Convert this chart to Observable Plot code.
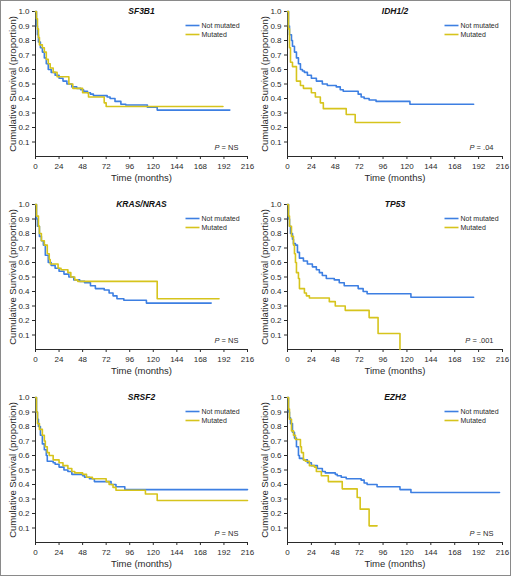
<!DOCTYPE html>
<html><head><meta charset="utf-8">
<script src="https://cdn.jsdelivr.net/npm/d3@7"></script>
<script src="https://cdn.jsdelivr.net/npm/@observablehq/plot@0.6"></script>
<style>
body{margin:0;background:#fff;}
#wrap{position:relative;width:512px;height:576px;overflow:hidden;background:#fff;}
#border{position:absolute;left:0;top:0;width:511px;height:576px;box-sizing:border-box;border:1px solid #8a8a8a;pointer-events:none;}
.panel{position:absolute;width:256px;}
.panel svg{display:block;max-width:none !important;}
</style></head>
<body><div id="wrap"><div id="border"></div></div>
<script>
// ---------- data ----------
const genes = ["SF3B1", "IDH1/2", "KRAS/NRAS", "TP53", "SRSF2", "EZH2"];
const pValues = ["NS", ".04", "NS", ".001", "NS", "NS"];
const groups = ["Not mutated", "Mutated"];
const xTicks = [0, 24, 48, 72, 96, 120, 144, 168, 192, 216];
const yTicks = [0.1, 0.2, 0.3, 0.4, 0.5, 0.6, 0.7, 0.8, 0.9, 1.0];
const xLabel = "Time (months)";
const yLabel = "Cumulative Survival (proportion)";

// SF3B1
const sf3b1NotTime = [0,1,2,3,5,7,9,11,13,16,20,24,28,32,37,42,46,49,53,56,59,73,76,81,87,92,114,124,198];
const sf3b1NotSurv = [1,0.9,0.84,0.79,0.75,0.72,0.68,0.64,0.6,0.58,0.56,0.54,0.52,0.5,0.48,0.47,0.46,0.45,0.44,0.43,0.42,0.41,0.40,0.38,0.36,0.355,0.34,0.32,0.32];
const sf3b1MutTime = [0,1,2,3,4,7,9,11,13,15,18,22,34,38,48,54,70,72,191];
const sf3b1MutSurv = [1,0.95,0.88,0.82,0.77,0.75,0.72,0.67,0.64,0.61,0.58,0.55,0.5,0.47,0.44,0.41,0.37,0.345,0.345];
// IDH1/2
const idhNotTime = [0,1,2,4,5,7,9,11,13,15,17,20,24,29,35,40,49,53,56,71,74,77,82,89,123,187];
const idhNotSurv = [1,0.9,0.84,0.8,0.76,0.72,0.68,0.64,0.6,0.59,0.58,0.56,0.54,0.52,0.5,0.49,0.48,0.46,0.45,0.43,0.41,0.40,0.39,0.38,0.36,0.36];
const idhMutTime = [0,1,2,3,5,9,13,16,24,28,33,36,59,68,113];
const idhMutSurv = [1,0.88,0.75,0.65,0.62,0.52,0.49,0.47,0.44,0.41,0.37,0.33,0.29,0.235,0.235];
// KRAS/NRAS
const rasNotTime = [0,1,2,4,6,8,10,13,16,20,24,29,34,39,45,50,56,61,70,75,79,83,90,113,179];
const rasNotSurv = [1,0.9,0.85,0.78,0.75,0.72,0.65,0.6,0.58,0.56,0.54,0.52,0.5,0.48,0.47,0.46,0.44,0.42,0.41,0.39,0.37,0.35,0.34,0.32,0.32];
const rasMutTime = [0,1,3,4,6,9,12,14,15,23,26,33,36,40,43,124,187];
const rasMutSurv = [1,0.92,0.85,0.8,0.75,0.72,0.66,0.62,0.59,0.56,0.55,0.53,0.5,0.48,0.47,0.35,0.35];
// TP53
const tp53NotTime = [0,1,2,3,5,6,8,10,12,16,20,25,29,32,35,39,47,52,57,71,76,80,124,187];
const tp53NotSurv = [1,0.9,0.85,0.8,0.76,0.73,0.72,0.67,0.63,0.61,0.59,0.57,0.55,0.53,0.51,0.49,0.48,0.46,0.44,0.42,0.40,0.385,0.36,0.36];
const tp53MutTime = [0,1,2,4,6,7,8,9,11,12,17,19,22,42,48,58,82,91,113];
const tp53MutSurv = [1,0.92,0.85,0.78,0.72,0.66,0.6,0.53,0.49,0.42,0.39,0.37,0.355,0.33,0.3,0.27,0.22,0.11,0];
// SRSF2
const srsf2NotTime = [0,1,2,3,5,7,9,11,12,18,20,24,29,33,37,48,50,55,60,77,82,91,216];
const srsf2NotSurv = [1,0.9,0.85,0.8,0.74,0.68,0.64,0.6,0.56,0.55,0.54,0.52,0.5,0.49,0.47,0.46,0.45,0.44,0.42,0.40,0.385,0.365,0.365];
const srsf2MutTime = [0,1,2,4,7,9,10,12,14,18,24,28,33,37,40,48,52,58,72,75,79,82,112,124,216];
const srsf2MutSurv = [1,0.9,0.82,0.78,0.74,0.7,0.66,0.62,0.6,0.57,0.55,0.53,0.51,0.49,0.48,0.47,0.45,0.44,0.42,0.40,0.38,0.36,0.335,0.29,0.29];
// EZH2
const ezh2NotTime = [0,1,2,3,5,7,9,11,12,16,20,24,30,35,38,48,50,54,59,74,77,80,90,113,124,213];
const ezh2NotSurv = [1,0.9,0.86,0.82,0.76,0.72,0.66,0.6,0.58,0.57,0.55,0.53,0.51,0.49,0.48,0.47,0.46,0.45,0.44,0.43,0.41,0.40,0.385,0.365,0.345,0.345];
const ezh2MutTime = [0,1,2,4,6,8,13,14,16,18,22,27,29,34,41,55,70,73,82,90];
const ezh2MutSurv = [1,0.92,0.85,0.77,0.74,0.71,0.66,0.62,0.57,0.56,0.53,0.52,0.49,0.46,0.42,0.37,0.31,0.23,0.115,0.115];

const seriesByGene = [
  [[sf3b1NotTime, sf3b1NotSurv], [sf3b1MutTime, sf3b1MutSurv]],
  [[idhNotTime, idhNotSurv], [idhMutTime, idhMutSurv]],
  [[rasNotTime, rasNotSurv], [rasMutTime, rasMutSurv]],
  [[tp53NotTime, tp53NotSurv], [tp53MutTime, tp53MutSurv]],
  [[srsf2NotTime, srsf2NotSurv], [srsf2MutTime, srsf2MutSurv]],
  [[ezh2NotTime, ezh2NotSurv], [ezh2MutTime, ezh2MutSurv]]
];

// ---------- drawing ----------
const blue = "#3d7fe2";
const yellow = "#d6c41c";
const font = "'Liberation Sans', Arial, Helvetica, sans-serif";
const lineSymbol = {draw(ctx) { ctx.moveTo(-7, 0); ctx.lineTo(7, 0); }};

const wrap = document.getElementById("wrap");

genes.forEach((gene, gi) => {
  const col = gi % 2, row = Math.floor(gi / 2);
  const rows = [];
  seriesByGene[gi].forEach(([t, s], k) => {
    t.forEach((tv, j) => rows.push({time: tv, surv: s[j], group: groups[k]}));
  });
  const legDx = col ? -51 : -55;
  const txtDx = col ? -42 : -46;
  const chart = Plot.plot({
    width: 256, height: 193,
    marginLeft: col ? 31 : 35, marginRight: col ? 10 : 9,
    marginTop: 11, marginBottom: 37,
    style: {fontFamily: font, fontSize: "8px", color: "#2a2a2a", background: "transparent", overflow: "visible"},
    x: {domain: [0, 216], ticks: xTicks, tickSize: 3, tickPadding: 4, label: null, line: true},
    y: {domain: [0, 1], ticks: yTicks, tickFormat: ".1f", tickSize: 3, tickPadding: 3, label: null, line: true},
    color: {domain: groups, range: [blue, yellow]},
    marks: [
      Plot.line(rows, {x: "time", y: "surv", stroke: "group", z: "group", curve: "step-after", strokeWidth: 1.6}),
      Plot.text([gene], {frameAnchor: "top", lineAnchor: "middle", fontStyle: "italic", fontWeight: "bold", fontSize: 8.5, fill: "#111"}),
      ...groups.map((g, i) => Plot.dot([g], {frameAnchor: "top-right", dx: legDx, dy: 14 + 9 * i, symbol: lineSymbol, stroke: d => d, strokeWidth: 1.6})),
      ...groups.map((g, i) => Plot.text([g], {frameAnchor: "top-right", dx: txtDx, dy: 14 + 9 * i, textAnchor: "start", lineAnchor: "middle", fontSize: 7, fill: "#2a2a2a"})),
      Plot.text(["P = " + pValues[gi]], {frameAnchor: "bottom-right", dx: -9, dy: -9, textAnchor: "end", lineAnchor: "middle", fontSize: 7.5, fill: "#2a2a2a"}),
      Plot.text([xLabel], {frameAnchor: "bottom", dy: 21, textAnchor: "middle", lineAnchor: "middle", fontSize: 9.5, fill: "#2a2a2a"}),
      Plot.text([yLabel], {frameAnchor: "left", dx: -23, rotate: -90, textAnchor: "middle", lineAnchor: "middle", fontSize: 9.5, fill: "#2a2a2a"})
    ]
  });
  // italicize the "P"
  chart.querySelectorAll("text").forEach(el => {
    if (el.textContent.startsWith("P = ")) {
      const rest = el.textContent.slice(1);
      el.textContent = "";
      const a = document.createElementNS("http://www.w3.org/2000/svg", "tspan");
      a.setAttribute("font-style", "italic");
      a.textContent = "P";
      const b = document.createElementNS("http://www.w3.org/2000/svg", "tspan");
      b.textContent = rest;
      el.appendChild(a); el.appendChild(b);
    }
  });
  const div = document.createElement("div");
  div.className = "panel";
  div.style.left = (col * 256) + "px";
  div.style.top = (row * 193) + "px";
  div.appendChild(chart);
  wrap.insertBefore(div, document.getElementById("border"));
});
</script>
</body></html>
